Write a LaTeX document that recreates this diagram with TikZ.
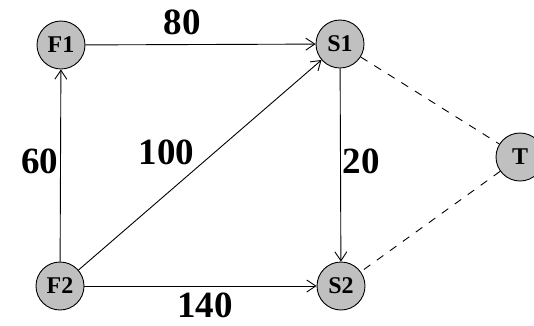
\documentclass[tikz,border=0pt]{standalone}
\usepackage{fontspec}
\setmainfont{Liberation Serif}
\usetikzlibrary{arrows.meta,positioning}
\definecolor{vgray}{HTML}{C0C0C0}

\begin{document}
\begin{tikzpicture}[x=1pt,y=-1pt,>={Straight Barb[length=9pt,width=12pt]},line width=0.9pt]
  \tikzstyle{v}=[draw,circle,fill=vgray,minimum size=48pt,inner sep=0pt,font=\fontsize{24}{26}\selectfont\bfseries]
  \tikzstyle{w}=[font=\fontsize{37}{39}\selectfont\bfseries,inner sep=2pt]
  \useasboundingbox (0,0) rectangle (534,325);
  \node[v] (f1) at (61,45) {F1};
  \node[v] (s1) at (340,44) {S1};
  \node[v] (f2) at (60,286) {F2};
  \node[v] (s2) at (341,286) {S2};
  \node[v] (t) at (520,157) {T};
  \draw[->] (f1) -- node[w,above,pos=0.42,yshift=7pt]{80} (s1);
  \draw[->] (f2) -- node[w,left,pos=0.52]{60} (f1);
  \draw[->] (f2) -- node[w,above left,pos=0.47,xshift=4pt,yshift=4pt]{100} (s1);
  \draw[->] (s1) -- node[w,right,pos=0.48]{20} (s2);
  \draw[->] (f2) -- node[w,below,pos=0.52,yshift=-4pt]{140} (s2);
  \draw[dash pattern=on 8pt off 8pt] (s1) -- (t);
  \draw[dash pattern=on 8pt off 8pt] (t) -- (s2);
\end{tikzpicture}
\end{document}
